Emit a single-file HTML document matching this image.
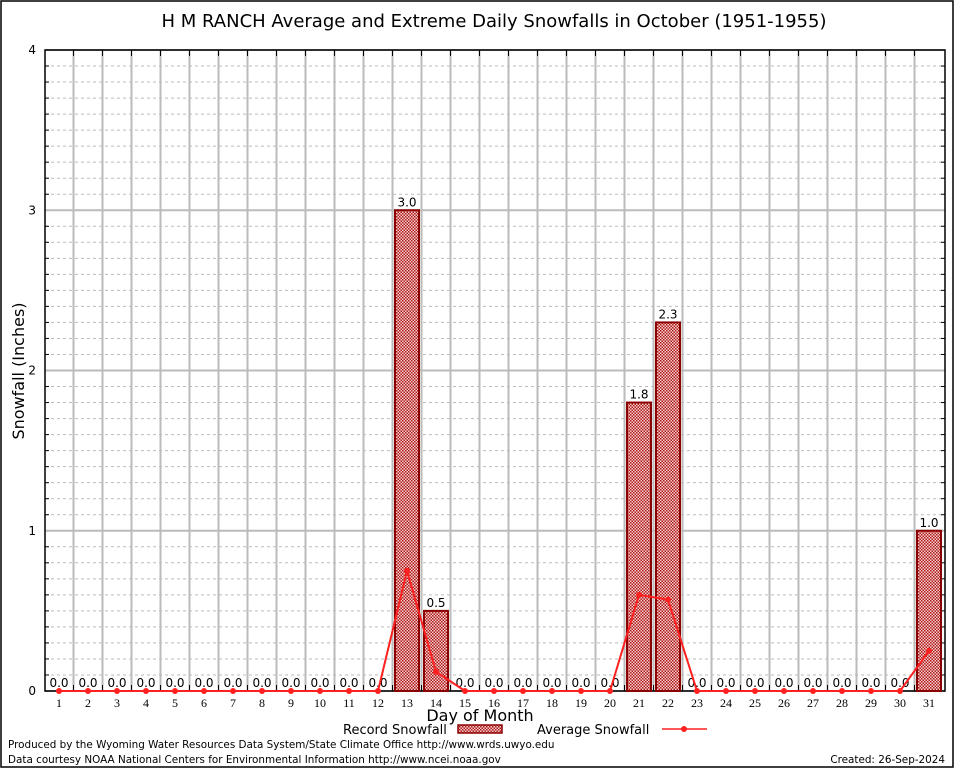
<!DOCTYPE html>
<html><head><meta charset="utf-8"><style>
body{margin:0;background:#fff;}
svg{display:block;font-family:"DejaVu Sans","Liberation Sans",sans-serif;}
</style></head><body>
<svg id="chart" width="954" height="768" viewBox="0 0 954 768">
<defs>
<pattern id="chk" width="3" height="3" patternUnits="userSpaceOnUse">
<rect width="3" height="3" fill="#f4d0d0"/>
<rect width="1.5" height="1.5" fill="#b01818"/>
<rect x="1.5" y="1.5" width="1.5" height="1.5" fill="#b01818"/>
</pattern>
</defs>
<rect x="1" y="1" width="952" height="766" fill="#fff" stroke="#000" stroke-width="1.5"/>
<text x="494" y="27" font-size="18" text-anchor="middle">H M RANCH Average and Extreme Daily Snowfalls in October (1951-1955)</text>
<g id="grid"></g>
<g id="bars"></g>
<g id="avg"></g>
<text transform="translate(24,371) rotate(-90)" font-size="16" text-anchor="middle">Snowfall (Inches)</text>
<text x="480" y="721" font-size="16" text-anchor="middle">Day of Month</text>
<g>
<text x="343" y="734" font-size="13">Record Snowfall</text>
<rect x="458" y="725" width="44" height="8" fill="url(#chk)" stroke="#8b0000" stroke-width="1.5"/>
</g>
<g>
<text x="537" y="734" font-size="13">Average Snowfall</text>
<line x1="662" y1="729" x2="707" y2="729" stroke="#ff2020" stroke-width="1.5"/>
<circle cx="684" cy="729" r="3" fill="#ff2020"/>
</g>
<text x="8" y="748" font-size="10.4">Produced by the Wyoming Water Resources Data System/State Climate Office http://www.wrds.uwyo.edu</text>
<text x="8" y="763" font-size="10.4">Data courtesy NOAA National Centers for Environmental Information http://www.ncei.noaa.gov</text>
<text x="945" y="763" font-size="10.4" text-anchor="end">Created:  26-Sep-2024</text>
</svg>
<script>
const days=[1,2,3,4,5,6,7,8,9,10,11,12,13,14,15,16,17,18,19,20,21,22,23,24,25,26,27,28,29,30,31];
const recordVals=[0,0,0,0,0,0,0,0,0,0,0,0,3.0,0.5,0,0,0,0,0,0,1.8,2.3,0,0,0,0,0,0,0,0,1.0];
const avgVals=[0,0,0,0,0,0,0,0,0,0,0,0,0.75,0.12,0,0,0,0,0,0,0.60,0.57,0,0,0,0,0,0,0,0,0.25];
const yTicks=[0,1,2,3,4];
const NS="http://www.w3.org/2000/svg";
const L=45,R=945,T=50,B=691,yMax=4;
const x=d=>59+(d-1)*29;
const y=v=>B-(v/yMax)*(B-T);
function mk(tag,at,parent){const e=document.createElementNS(NS,tag);for(const k in at)e.setAttribute(k,at[k]);parent.appendChild(e);return e;}
const g=document.getElementById('grid'),gb=document.getElementById('bars'),ga=document.getElementById('avg');
for(let i=1;i<40;i++){if(i%10===0)continue;const v=i/10;const yy=y(v);
const ln=mk('line',{x1:L,x2:R,y1:yy,y2:yy,stroke:'#bbb','stroke-dasharray':'3,3','stroke-width':1},g);


mk('line',{x1:L,x2:L+4,y1:yy,y2:yy,stroke:'#000'},g);mk('line',{x1:R-4,x2:R,y1:yy,y2:yy,stroke:'#000'},g);}
yTicks.forEach(v=>{const yy=y(v);
const ln=mk('line',{x1:L,x2:R,y1:yy,y2:yy,stroke:'#bbb','stroke-width':2},g);


const t=mk('text',{x:L-9,y:yy+4,'font-size':12,'text-anchor':'end'},g);t.textContent=v;

});
for(let i=0;i<days.length-1;i++){const xx=(x(days[i])+x(days[i+1]))/2;
const ln=mk('line',{x1:xx,x2:xx,y1:T,y2:B,stroke:'#bbb','stroke-width':2},g);


mk('line',{x1:xx,x2:xx,y1:T,y2:T+6,stroke:'#000'},g);mk('line',{x1:xx,x2:xx,y1:B-6,y2:B,stroke:'#000'},g);}
mk('rect',{x:L,y:T,width:R-L,height:B-T,fill:'none',stroke:'#000','stroke-width':1.5},g);
days.forEach((d,i)=>{const t=mk('text',{x:x(d),y:B+16,'font-size':12,'text-anchor':'middle','font-family':'Liberation Serif,serif'},g);t.textContent=d;


const v=recordVals[i];
if(v>0){const r=mk('rect',{x:x(d)-12,y:y(v),width:24,height:B-y(v),fill:'url(#chk)',stroke:'#8b0000','stroke-width':2},gb);

}
const lb=mk('text',{x:x(d),y:y(v)-4,'font-size':12,'text-anchor':'middle'},gb);lb.textContent=v.toFixed(1);

});
const pts=days.map((d,i)=>x(d)+','+y(avgVals[i])).join(' ');
const pl=mk('polyline',{points:pts,fill:'none',stroke:'#ff2020','stroke-width':2},ga);


days.forEach((d,i)=>{const c=mk('circle',{cx:x(d),cy:y(avgVals[i]),r:3,fill:'#ff2020'},ga);

});
</script>
</body></html>
